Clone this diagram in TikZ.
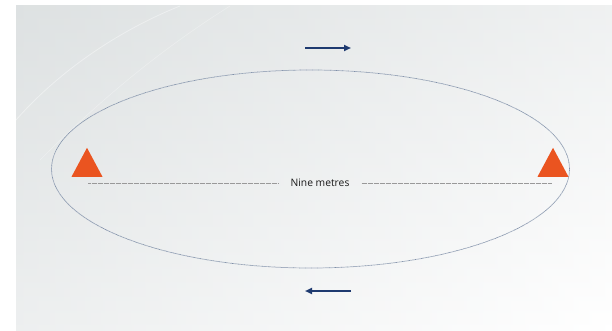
\documentclass[tikz,border=0pt]{standalone}
\usepackage{fontspec}
\setmainfont{Open Sans}
\usetikzlibrary{arrows.meta,shapes.geometric}
\definecolor{tri}{HTML}{EA5420}
\definecolor{navy}{HTML}{1E3A70}
\definecolor{orbit}{HTML}{7F8FA8}
\definecolor{bgg}{HTML}{D3D8D9}
\begin{document}
\begin{tikzpicture}[x=1pt,y=-1pt,
  cone/.style={fill=tri,draw=none,isosceles triangle,isosceles triangle stretches,shape border rotate=90,minimum width=31,minimum height=29,inner sep=0pt,anchor=south},
  dist/.style={draw=gray!80,dash pattern=on 0.6pt off 0.6pt,line width=0.9pt},
  dirarrow/.style={draw=navy,line width=2pt,-{Triangle[length=7pt,width=6pt]}},
  lbl/.style={font=\fontsize{10.3}{12}\selectfont,text=black!90,inner xsep=12pt,inner ysep=3pt}]
\useasboundingbox (0,0) rectangle (612,331);
\fill[white] (0,0) rectangle (612,331);
\shade[shading angle=120,left color=bgg,right color=white] (16,6) rectangle (612,331);
\shade[top color=bgg!60,bottom color=white,opacity=0.6] (16,6) rectangle (612,331);
\draw[white,opacity=0.4,line width=0.8pt] (16,120) .. controls (60,70) and (120,30) .. (180,6);
\draw[white,opacity=0.3,line width=0.6pt] (40,160) .. controls (100,100) and (160,50) .. (230,6);
\draw[orbit,dash pattern=on 0.7pt off 0.5pt,line width=0.7pt] (310.5,169) ellipse [x radius=259, y radius=99];
\node[cone] (lc) at (87,177) {};
\node[cone] (rc) at (553,177) {};
\node[lbl] (lab) at (320,183) {Nine metres};
\coordinate (ls) at (88,183);
\coordinate (re) at (552,183);
\draw[dist] (ls) -- (lab.west);
\draw[dist] (lab.east) -- (re);
\coordinate (t1) at (305,48); \coordinate (t2) at (351,48);
\coordinate (b1) at (351,291); \coordinate (b2) at (305,291);
\draw[dirarrow] (t1) -- (t2);
\draw[dirarrow] (b1) -- (b2);
\end{tikzpicture}
\end{document}
